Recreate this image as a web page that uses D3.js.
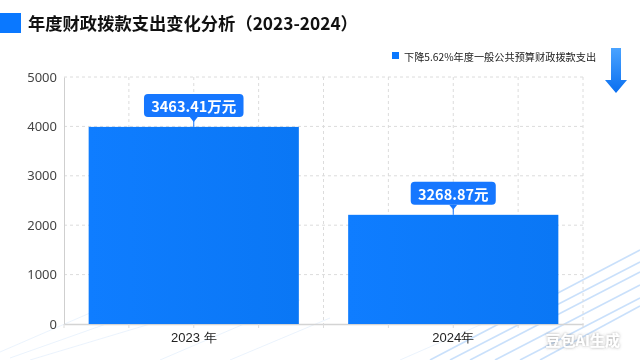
<!DOCTYPE html>
<html><head><meta charset="utf-8">
<script src="https://cdn.jsdelivr.net/npm/d3@7"></script>
<style>
html,body{margin:0;padding:0;background:#fff;}
svg{display:block;font-family:"Noto Sans CJK SC","Noto Sans",sans-serif;}
</style></head>
<body>
<svg id="c" width="640" height="360"></svg>
<script>
const title = "年度财政拨款支出变化分析（2023-2024）";
const legendText = "下降5.62%年度一般公共预算财政拨款支出";
const categories = ["2023 年", "2024年"];
const values = [3990, 2210];
const valueLabels = ["3463.41万元", "3268.87元"];
const yTicks = [0, 1000, 2000, 3000, 4000, 5000];
const watermark = "豆包AI生成";

const svg = d3.select("#c");
const W = 640, H = 360;
const m = {left: 64, right: 57, top: 77, bottom: 34};
const x0 = m.left, x1 = W - m.right, yTop = m.top, yBot = H - m.bottom - 2;

const defs = svg.append("defs");
const bg = defs.append("linearGradient").attr("id","barg").attr("x1",0).attr("y1",0).attr("x2",1).attr("y2",0);
bg.append("stop").attr("offset","0%").attr("stop-color","#0f7dff");
bg.append("stop").attr("offset","100%").attr("stop-color","#0a77f5");
const ag = defs.append("linearGradient").attr("id","arrg").attr("x1",0).attr("y1",0).attr("x2",0).attr("y2",1);
ag.append("stop").attr("offset","0%").attr("stop-color","#4aa3ff");
ag.append("stop").attr("offset","100%").attr("stop-color","#0a6ff0");
const sh = defs.append("filter").attr("id","wsh").attr("x","-20%").attr("y","-50%").attr("width","140%").attr("height","200%");
sh.append("feDropShadow").attr("dx",0).attr("dy",0).attr("stdDeviation",1.5).attr("flood-color","#666").attr("flood-opacity",0.6);

// decorative faint brush strokes
const strokes = svg.append("g").attr("opacity",0.5);
const brushLines = [
  [[0,352],[120,300]],[[10,358],[140,312]],[[30,360],[170,318]],[[160,360],[300,300]],
  [[230,360],[330,318]],[[430,360],[640,250]],[[450,360],[640,262]],[[470,360],[640,272]],
  [[495,360],[640,285]],[[520,360],[640,298]],[[540,360],[640,306]],[[400,360],[560,290]]
];
brushLines.forEach((l,i)=>{
  strokes.append("line").attr("x1",l[0][0]).attr("y1",l[0][1]).attr("x2",l[1][0]).attr("y2",l[1][1])
    .attr("stroke", i>=5 && i<=10 ? "#3d8ff0" : "#a9cdf5")
    .attr("stroke-width", i>=5 && i<=10 ? 1.6 : 0.8)
    .attr("opacity", i>=5 && i<=10 ? 0.55 : 0.6);
});

const y = d3.scaleLinear().domain([0,5000]).range([yBot, yTop]);
const x = d3.scaleBand().domain(categories).range([x0, x1]).paddingInner(0.19).paddingOuter(0.095);

// grid
const gx = d3.range(0, 9).map(i => x0 + (x1 - x0) * i / 8);
svg.append("g").selectAll("line").data(gx.slice(1)).join("line")
  .attr("x1", d=>d).attr("x2", d=>d).attr("y1", yTop).attr("y2", yBot)
  .attr("stroke","#dcdcdc").attr("stroke-dasharray","3,3").attr("stroke-width",1);
svg.append("g").selectAll("line").data(yTicks.slice(1)).join("line")
  .attr("x1", x0).attr("x2", x1).attr("y1", d=>y(d)).attr("y2", d=>y(d))
  .attr("stroke","#dcdcdc").attr("stroke-dasharray","3,3").attr("stroke-width",1);

// y axis
const yAxis = svg.append("g").attr("transform",`translate(${x0},0)`)
  .call(d3.axisLeft(y).tickValues(yTicks).tickFormat(d3.format("d")).tickSize(0).tickPadding(7));
yAxis.select(".domain").attr("stroke","#cfcfcf");
yAxis.selectAll("text").attr("font-size",13).attr("fill","#444").attr("font-family","'Noto Sans','DejaVu Sans',sans-serif");

// x axis
const xAxis = svg.append("g").attr("transform",`translate(0,${yBot})`)
  .call(d3.axisBottom(x).tickSize(0).tickPadding(9));
xAxis.select(".domain").attr("stroke","#d4d4d4").attr("stroke-width",1.5);
xAxis.selectAll("text").attr("font-size",13).attr("fill","#222");
svg.append("g").selectAll("line").data(gx).join("line")
  .attr("x1", d=>d).attr("x2", d=>d).attr("y1", yBot).attr("y2", yBot+4)
  .attr("stroke","#dcdcdc");

// bars
svg.append("g").selectAll("rect").data(values).join("rect")
  .attr("x", (d,i)=>x(categories[i])).attr("width", x.bandwidth())
  .attr("y", d=>y(d)).attr("height", d=>yBot - y(d))
  .attr("fill","url(#barg)");

// callouts
const cg = svg.append("g");
values.forEach((v,i)=>{
  const cx = x(categories[i]) + x.bandwidth()/2;
  const top = y(v);
  const g = cg.append("g");
  g.append("line").attr("x1",cx).attr("x2",cx).attr("y1",top-6).attr("y2",top).attr("stroke","#1677ff").attr("stroke-width",1);
  const t = g.append("text").attr("x",cx).attr("y",top-15).attr("text-anchor","middle")
    .attr("font-size",14.5).attr("font-weight","bold").attr("fill","#fff").text(valueLabels[i]);
  const bb = t.node().getBBox();
  const bw = bb.width + 14, bh = 23;
  g.insert("rect","text").attr("x",cx-bw/2).attr("y",top-10-bh).attr("width",bw).attr("height",bh)
    .attr("rx",4).attr("fill","#1677ff");
  g.insert("path","text").attr("d",`M${cx-4},${top-10} L${cx+4},${top-10} L${cx},${top-5} Z`).attr("fill","#1677ff");
  t.attr("y", top-10-bh/2).attr("dominant-baseline","central");
});

// title
svg.append("rect").attr("x",0).attr("y",13).attr("width",21).attr("height",20).attr("fill","#0a78ff");
svg.append("text").attr("x",28).attr("y",30).attr("font-size",17.3).attr("font-weight","bold").attr("fill","#111").text(title);

// legend
svg.append("rect").attr("x",392).attr("y",52).attr("width",7).attr("height",7).attr("fill","#0a78ff");
svg.append("text").attr("x",404).attr("y",56).attr("dominant-baseline","central").attr("font-size",10.2).attr("fill","#222").text(legendText);

// arrow
svg.append("path").attr("d","M611,48 L621,48 L621,80 L627,80 L616,93 L605,80 L611,80 Z").attr("fill","url(#arrg)");

// watermark
svg.append("text").attr("x",620).attr("y",346).attr("text-anchor","end").attr("font-size",15).attr("font-weight","bold")
  .attr("fill","#ffffff").attr("filter","url(#wsh)")
  .text(watermark);
</script>
</body></html>
